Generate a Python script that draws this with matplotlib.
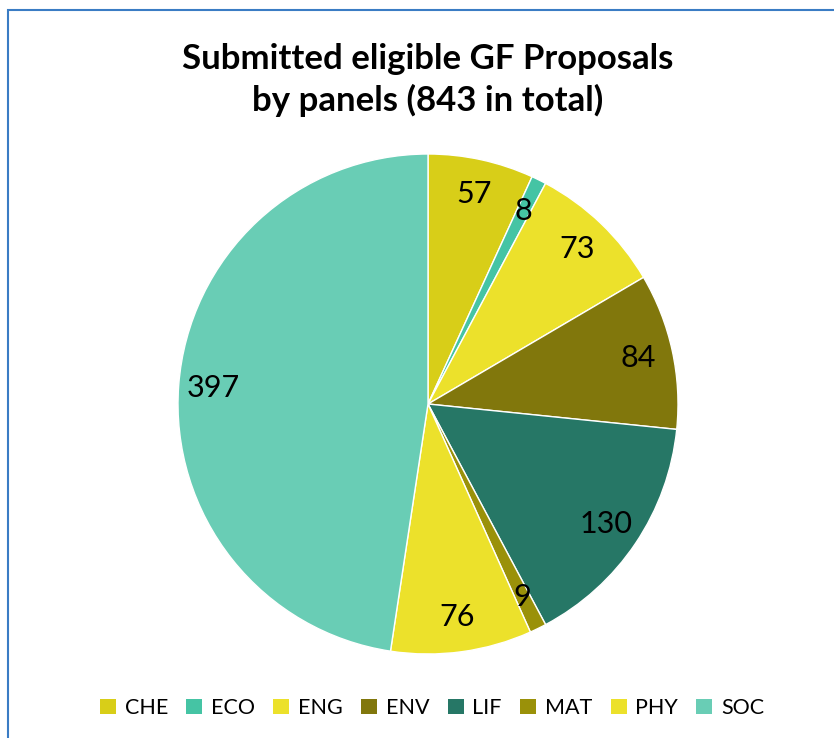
import matplotlib
matplotlib.use("Agg")
import matplotlib.pyplot as plt
from matplotlib.patches import Rectangle, Patch

categories = ["CHE", "ECO", "ENG", "ENV", "LIF", "MAT", "PHY", "SOC"]
values = [57, 8, 73, 84, 130, 9, 76, 397]
colors = ["#D8CE18", "#45C4A4", "#ECE12B", "#81770C", "#267766", "#9A9109", "#ECE12B", "#69CDB5"]
title = "Submitted eligible GF Proposals\nby panels (843 in total)"

plt.rcParams['font.family'] = ['Lato', 'DejaVu Sans']

W, H = 834, 738
fig = plt.figure(figsize=(W / 100, H / 100), dpi=100)

# outer frame
fig.patches.append(Rectangle((8 / W, -0.1), 1.2, 1 - 10 / H + 0.1, transform=fig.transFigure,
                             fill=False, edgecolor="#3A7CC4", linewidth=1.5))

cx, cy, r = 428, 404, 250
ax = fig.add_axes([(cx - r) / W, (H - cy - r) / H, 2 * r / W, 2 * r / H])
wedges, texts = ax.pie(values, colors=colors, startangle=90, counterclock=False,
                       wedgeprops=dict(edgecolor="white", linewidth=1.0),
                       labels=[str(v) for v in values], labeldistance=0.86,
                       textprops=dict(fontsize=22, color="black", ha="center", va="center"))
for t in texts:
    t.set_ha("center")
    t.set_va("center")
ax.set_xlim(-1, 1)
ax.set_ylim(-1, 1)
ax.set_aspect("equal")
ax.axis("off")

fig.text(0.513, 1 - 80 / H, title, ha="center", va="center", fontsize=25,
         fontweight="bold", linespacing=1.35)

handles = [Patch(facecolor=c, edgecolor="none") for c in colors]
fig.legend(handles, categories, loc="center", bbox_to_anchor=(432 / W, 1 - 708 / H),
           ncol=8, frameon=False, fontsize=15.5, handlelength=0.75, handleheight=0.75,
           handletextpad=0.4, columnspacing=0.85)

fig.savefig("out.png", dpi=100)
